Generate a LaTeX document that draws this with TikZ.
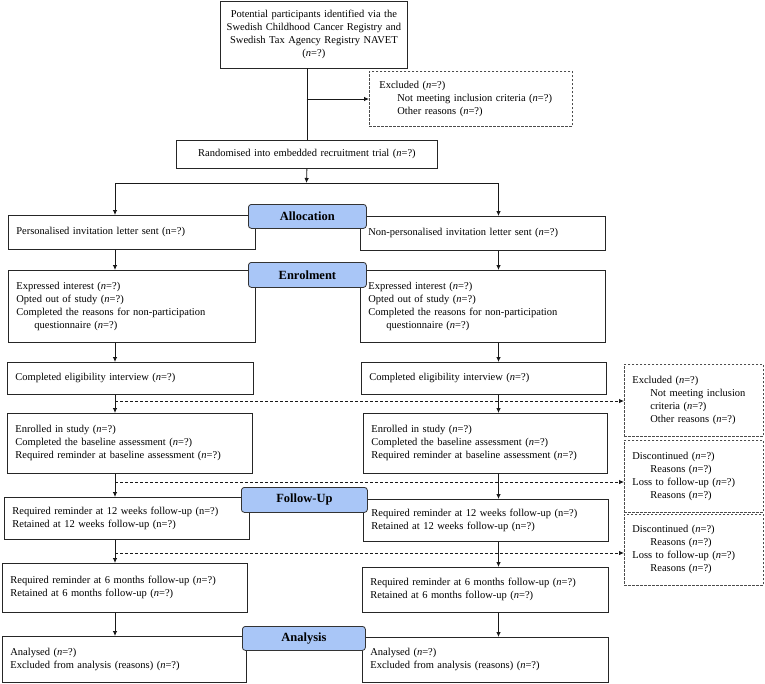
\documentclass[tikz,border=0pt]{standalone}
\usepackage{fontspec}
\setmainfont{Liberation Serif}
\usetikzlibrary{arrows.meta}
\definecolor{stagefill}{HTML}{A9C6F7}
\newcommand{\nq}{(\textit{n}=?)}
\newcommand{\ind}{\hspace*{18pt}}

\begin{document}
\begin{tikzpicture}[x=1pt, y=-1pt,
  font=\fontsize{10.5}{13}\selectfont,
  >={Latex[length=5pt,width=4.5pt]},
  box/.style={draw=black!85, line width=0.8pt, anchor=north west, align=left,
    inner xsep=8pt, inner ysep=1pt},
  cbox/.style={box, align=center},
  exbox/.style={box, draw=black!70, dash pattern=on 2.5pt off 1.5pt},
  stage/.style={draw=black!80, line width=0.8pt, fill=stagefill, rounded corners=3pt,
    anchor=north west, inner sep=0pt, font=\fontsize{12.5}{14}\selectfont\bfseries},
  flow/.style={->, line width=0.8pt, black!90},
  skip/.style={flow, dash pattern=on 3pt off 2pt}]

  \useasboundingbox (0,0) rectangle (765,683);

  % Identification and randomisation
  \node[cbox, inner xsep=1pt, text width=185pt, minimum height=67pt] (source) at (220,0.5)
    {Potential participants identified via the\\Swedish Childhood Cancer Registry and\\Swedish Tax Agency Registry NAVET\\\nq};
  \node[exbox, inner xsep=10pt, text width=183pt, minimum height=55pt] (exA) at (369,71)
    {Excluded \nq\\\ind Not meeting inclusion criteria \nq\\\ind Other reasons \nq};
  \node[cbox, text width=245pt, minimum height=28pt] (rand) at (176,140)
    {Randomised into embedded recruitment trial \nq};

  % Left arm
  \node[box, text width=231pt, minimum height=34pt] (letterL) at (8,215)
    {Personalised invitation letter sent (n=?)};
  \node[box, text width=231pt, minimum height=72pt] (interestL) at (8,270)
    {Expressed interest \nq\\Opted out of study \nq\\Completed the reasons for non-participation\\\ind questionnaire \nq};
  \node[box, text width=230pt, minimum height=32pt] (eligL) at (7,362)
    {Completed eligibility interview \nq};
  \node[box, text width=229pt, minimum height=60pt] (enrolL) at (7,413)
    {Enrolled in study \nq\\Completed the baseline assessment \nq\\Required reminder at baseline assessment \nq};
  \node[box, text width=229pt, minimum height=42pt] (weeksL) at (4,497)
    {Required reminder at 12 weeks follow-up (n=?)\\Retained at 12 weeks follow-up (n=?)};
  \node[box, text width=229pt, minimum height=49pt] (monthsL) at (2,563)
    {Required reminder at 6 months follow-up \nq\\Retained at 6 months follow-up \nq};
  \node[box, text width=228pt, minimum height=46pt] (analysedL) at (2,636)
    {Analysed \nq\\Excluded from analysis (reasons) \nq};

  % Right arm
  \node[box, text width=229pt, minimum height=34pt] (letterR) at (360,216)
    {Non-personalised invitation letter sent \nq};
  \node[box, text width=229pt, minimum height=72pt] (interestR) at (360,270)
    {Expressed interest \nq\\Opted out of study \nq\\Completed the reasons for non-participation\\\ind questionnaire \nq};
  \node[box, text width=229pt, minimum height=32pt] (eligR) at (361,362)
    {Completed eligibility interview \nq};
  \node[box, text width=228pt, minimum height=60pt] (enrolR) at (363,413)
    {Enrolled in study \nq\\Completed the baseline assessment \nq\\Required reminder at baseline assessment \nq};
  \node[box, text width=229pt, minimum height=42pt] (weeksR) at (363,499)
    {Required reminder at 12 weeks follow-up (n=?)\\Retained at 12 weeks follow-up (n=?)};
  \node[box, text width=230pt, minimum height=45pt] (monthsR) at (362,567)
    {Required reminder at 6 months follow-up \nq\\Retained at 6 months follow-up \nq};
  \node[box, text width=230pt, minimum height=45pt] (analysedR) at (362,637)
    {Analysed \nq\\Excluded from analysis (reasons) \nq};

  % Drop-outs on the right
  \node[exbox, text width=123pt, minimum height=72pt] (exB) at (624,364)
    {Excluded \nq\\\ind Not meeting inclusion\\\ind criteria \nq\\\ind Other reasons \nq};
  \node[exbox, text width=123pt, minimum height=72pt] (lossA) at (624,440)
    {Discontinued \nq\\\ind Reasons \nq\\Loss to follow-up \nq\\\ind Reasons \nq};
  \node[exbox, text width=123pt, minimum height=71pt] (lossB) at (624,514)
    {Discontinued \nq\\\ind Reasons \nq\\Loss to follow-up \nq\\\ind Reasons \nq};

  % Junctions
  \coordinate (excl) at (306.5,99);
  \coordinate (split) at (306.5,183);
  \coordinate (lcol) at (115,183);
  \coordinate (rcol) at (498.5,183);
  \coordinate (outA) at (115,401);
  \coordinate (outB) at (115,482);
  \coordinate (outC) at (115,553);

  % Connectors
  \draw[line width=0.8pt, black!90] (source.south -| rand.north) -- (rand.north);
  \draw[flow] (excl) -- (excl -| exA.west);
  \draw[flow] (rand.south) -- (split);
  \draw[line width=0.8pt, black!90] (lcol) -- (rcol);
  \draw[flow] (lcol) -- (lcol |- letterL.north);
  \draw[flow] (rcol) -- (rcol |- letterR.north);
  \foreach \a/\b in {letter/interest, interest/elig, elig/enrol, enrol/weeks,
                     weeks/months, months/analysed} {
    \draw[flow] (\a L.south -| lcol) -- (\b L.north -| lcol);
    \draw[flow] (\a R.south -| rcol) -- (\b R.north -| rcol);
  }
  \draw[skip] (outA) -- (outA -| exB.west);
  \draw[skip] (outB) -- (outB -| lossA.west);
  \draw[skip] (outC) -- (outC -| lossB.west);

  % Stage labels
  \node[stage, minimum width=118pt, minimum height=24pt] (allocation) at (248,204) {Allocation};
  \node[stage, minimum width=118pt, minimum height=25pt] (enrolment) at (248,262) {Enrolment};
  \node[stage, minimum width=126pt, minimum height=25pt] (followup) at (241,487) {Follow-Up};
  \node[stage, minimum width=123pt, minimum height=24pt] (analysis) at (242,626) {Analysis};

\end{tikzpicture}
\end{document}
